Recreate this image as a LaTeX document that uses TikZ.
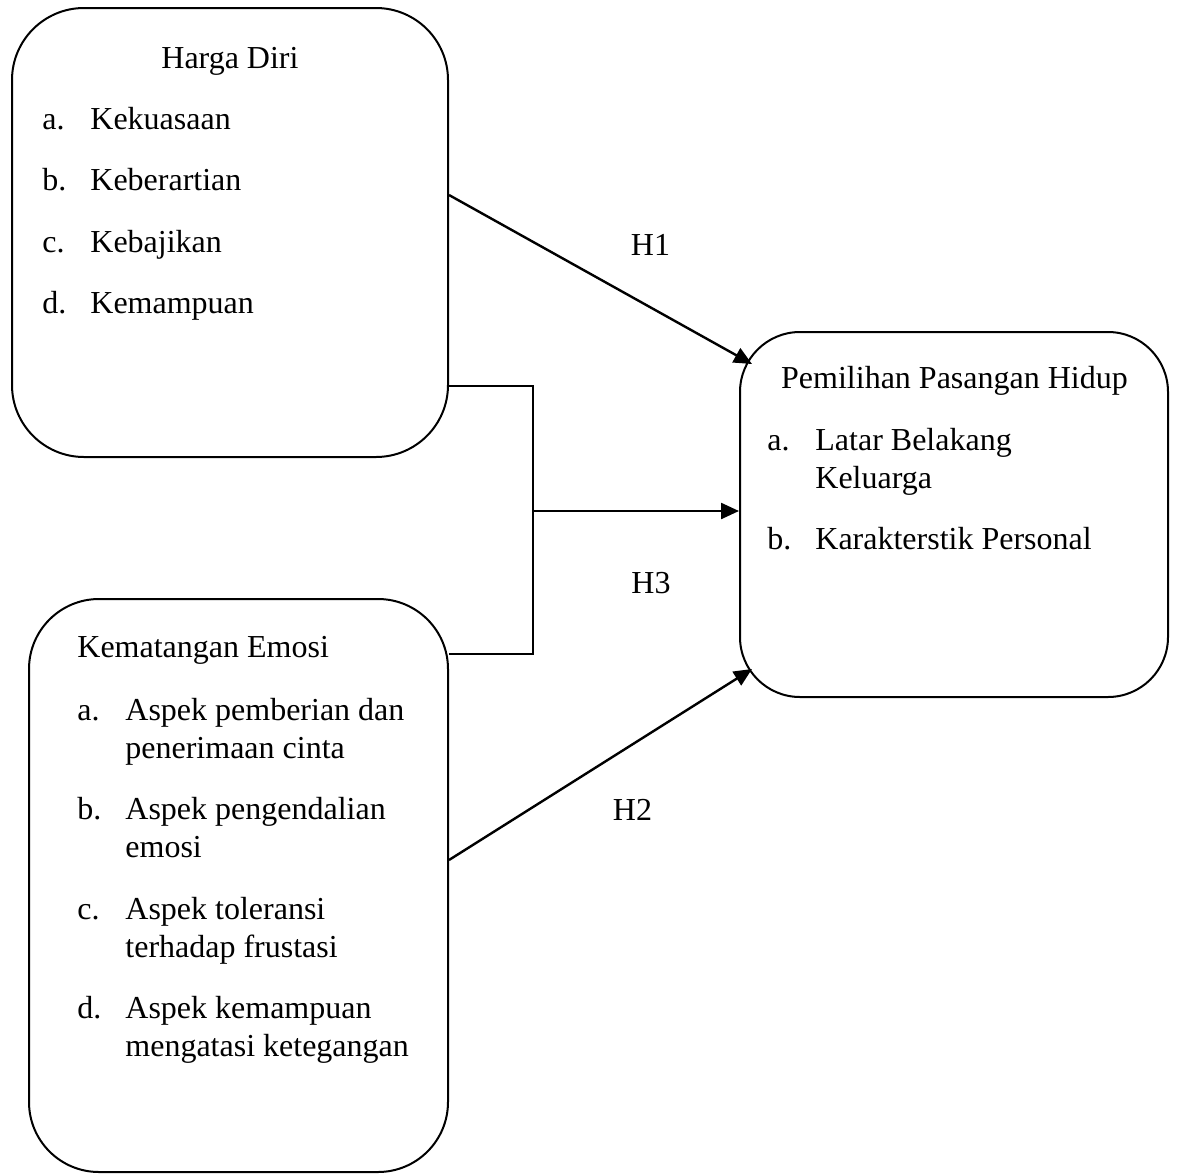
\documentclass[tikz,border=0pt]{standalone}
\usepackage{fontspec}
\setmainfont{Liberation Serif}
\usetikzlibrary{arrows.meta}

\begin{document}
\begin{tikzpicture}[
    x=0.5pt, y=-0.5pt,
    every node/.style={font=\fontsize{16}{19}\selectfont},
    panel/.style={draw, line width=1pt, rounded corners=#1, inner sep=0pt},
    txt/.style={anchor=base west, inner sep=0pt},
    lbl/.style={anchor=base, inner sep=0pt},
    arr/.style={-{Triangle[length=9pt, width=8pt]}, line width=1.2pt},
    link/.style={line width=0.6pt}
]
\useasboundingbox (0,0) rectangle (1178,1173);

\node[panel=36pt, minimum width=218pt, minimum height=224.5pt] (hd) at (230,232.5) {};
\node[panel=35pt, minimum width=209.5pt, minimum height=286.5pt] (ke) at (238.5,885.5) {};
\node[panel=30pt, minimum width=214pt, minimum height=182.5pt] (pph) at (954,514.5) {};

\node[lbl] (hdtitle) at (230,68) {Harga Diri};
\node[txt] (hdlist) at (42,129) {\begin{tabular}[t]{@{}p{24pt}@{}l@{}}
  a. & Kekuasaan\\[11.75pt]
  b. & Keberartian\\[11.75pt]
  c. & Kebajikan\\[11.75pt]
  d. & Kemampuan
\end{tabular}};

\node[txt] (ketitle) at (77,657) {Kematangan Emosi};
\node[txt] (kelist) at (77,720) {\begin{tabular}[t]{@{}p{24pt}@{}l@{}}
  a. & Aspek pemberian dan\\
     & penerimaan cinta\\[11.75pt]
  b. & Aspek pengendalian\\
     & emosi\\[11.75pt]
  c. & Aspek toleransi\\
     & terhadap frustasi\\[11.75pt]
  d. & Aspek kemampuan\\
     & mengatasi ketegangan
\end{tabular}};

\node[lbl] (pphtitle) at (954.5,388) {Pemilihan Pasangan Hidup};
\node[txt] (pphlist) at (767,450) {\begin{tabular}[t]{@{}p{24pt}@{}l@{}}
  a. & Latar Belakang\\
     & Keluarga\\[11.75pt]
  b. & Karakterstik Personal
\end{tabular}};

\node[lbl] (h1) at (650.5,255) {H1};
\node[lbl] (h3) at (651,593) {H3};
\node[lbl] (h2) at (632.5,820) {H2};

\coordinate (jn) at (533,511);

\draw[arr] ([yshift=18.75pt]hd.east) -- ([shift={(6.5pt,-16.5pt)}]pph.north west);
\draw[arr] ([yshift=12.75pt]ke.east) -- ([shift={(6.5pt,14.5pt)}]pph.south west);
\draw[link] ([yshift=-76.75pt]hd.east) -| (jn) |- ([yshift=115.75pt]ke.east);
\draw[arr] (jn) -- (jn -| pph.west);
\end{tikzpicture}
\end{document}
